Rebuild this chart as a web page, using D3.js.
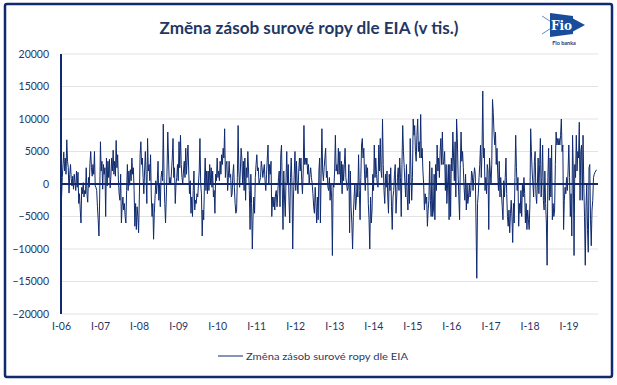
<!DOCTYPE html>
<html>
<head>
<meta charset="utf-8">
<script src="https://cdn.jsdelivr.net/npm/d3@7"></script>
<style>
    body { margin: 0; background: #fff; }
    svg { display: block; font-family: Lato, "Open Sans", sans-serif; }
</style>
</head>
<body>
<div id="chart"></div>
<script>
// weekly change of crude stocks (thousand barrels), 52 weeks per row
var w2006 = [-2100, 1000, 3000, 4900, 2000, 4000, 1500, 6800, 3500, 2500, -1400, 1500, 3000, 800, -300, 1200, -800, 1500, 200, -1000, 2000, -500, 1800, -3000, -1500, -4000, -6000, -500, -1500, 200, -2000, -1000, -1500, 2500, -1600, -2800, 1000, -500, 3200, 5000, 2500, 1200, 3000, 1500, 5000, -300, -500, -1000, -3500, -5500, -8000, -2000];
var w2007 = [6500, 2000, 3500, -800, 3000, 1500, 2500, -5000, 4000, -300, 3500, 1000, 3800, -600, 1200, 4000, 2000, 5200, 1500, 3500, 1200, 6700, 2500, 4500, 600, -1500, -2500, 1500, -6000, -3500, -2000, -4000, -3000, -5000, -6000, -1000, 3000, -1000, 2000, -200, 2200, 500, 4000, 1500, 2500, -1000, -6500, -3000, -7000, -3500, -5000, -7500];
var w2008 = [-2000, 4500, 6500, 3000, 4000, 1000, -1500, 2000, 5000, 1500, -3000, 7000, 2000, 3000, 500, 4500, -2000, -5000, -3000, -8500, -4500, -2000, 500, -1500, 500, 3500, -2500, 0, -3500, 1000, 2000, 500, 9200, 1000, -3000, -6000, -2000, 2000, 8000, 4000, 0, 1000, 0, 2000, 4000, 7000, 1000, 2500, -3000, 0, 1000, 3000];
var w2009 = [500, 6500, 2500, 7500, 3000, 1000, 0, 2000, 3500, 1000, 5500, 1500, 4000, 6000, 2000, -1500, 500, -4500, -2000, -5000, -1000, 2000, -4000, -2500, -3000, -1500, -2000, 0, 2000, 7000, 0, -1500, -8000, -4000, -5500, 0, 4000, -1000, 2000, -1500, 2000, -1000, 3000, 0, 2500, -500, 2000, -2000, -1000, -4500, 1500, 500];
var w2010 = [4000, 1000, 2000, 500, 3500, 1500, 4500, 3000, 5500, 4000, 8500, 1000, 3000, 3500, -1000, 1000, 3500, 1000, 1500, -2000, -1500, 1500, 3000, -500, -3000, -4500, -4000, 1000, 9000, 2000, -500, 2000, 5500, 4000, 0, 3500, -1000, 4000, -2500, 2500, 1000, 5000, 2000, -1000, -7000, 1500, -3000, -10000, -5000, -2000, -4500, 1000];
var w2011 = [3000, 4500, 2000, 2500, 0, 500, 1000, 3500, 2500, 1000, 2000, 3000, 500, -1000, 1500, 4000, 6000, 0, 3000, 1500, 3500, -5000, -2000, -3500, -2000, -4000, -1500, -1000, -3500, -1500, 1000, 2000, -3500, 4500, 6000, -500, -7000, 2000, -2000, -5000, 500, 5000, 0, 3000, -2500, -6000, 1000, 4000, 0, -10000, -2000, 1500];
var w2012 = [5000, -1000, 3500, 0, -1500, 2000, 4000, 2000, 4000, 500, -1500, 2000, 9000, 3000, 4000, 3000, 4000, 1500, 3000, 0, 1500, 2500, 1000, 0, -1500, -3500, -4500, -500, -3000, -6000, -2000, -5500, 2000, 4000, -6000, 2000, 8500, 2000, 500, 2500, 4000, 5500, 1000, 2000, -500, -1000, 1000, -2500, 0, -2000, -11000, 0];
var w2013 = [-500, 2000, 7500, 2000, 3000, 1500, 5500, 1500, 5000, 0, 3500, -1500, 3000, 500, 3000, 5500, 1000, 0, -1000, -500, 3000, -7500, 2000, -3500, -6000, -10000, -5000, -2000, 0, -4000, -2500, 0, -2000, 4500, -1000, -5500, 1000, 6000, 7000, 4000, 5500, 1500, -1000, 3000, 1000, 2500, -3000, -5500, -10000, -2000, -6000, -4000];
var w2014 = [1500, -1000, 6000, 1000, 4000, 1500, 0, -500, 6000, 2000, 7000, 2000, 1000, 10000, 3000, -1000, -3000, 1500, -500, 2000, -2000, -4500, 1500, -1000, 2500, -3500, -7000, -2000, -1000, 1500, 3000, -4500, -2000, 1000, 2500, -1000, 4000, 1000, -5000, 3000, 9000, 5000, 2500, 0, -2000, 3000, -2000, -4000, 1500, -3000, 7000, 2000];
var w2015 = [-2500, 1000, 10000, 7500, 9000, 5000, 3500, 7500, 10000, 5000, 6500, 4000, 10700, 4000, 5500, 2000, 0, -4000, -1500, -3000, -2000, -6500, -4000, -2500, 3500, -2500, -5000, 2500, -5000, -4000, 1500, -5500, 3000, -1000, 6000, 2000, 4000, 1000, 5000, 7000, 3000, 8000, 3000, 3500, 5000, -1000, 3000, -3000, 0, 3000, -5500, 3000];
var w2016 = [-5000, 4000, 2000, 8000, 4000, 500, 6500, -2000, 10000, 7000, 1500, -2000, -5500, 3000, 8000, 3500, 5000, 2500, -500, -2500, 1500, -4000, 0, -3000, -2000, 0, -2000, -1000, 2000, 1500, -1000, 1000, 2500, 1500, -6000, -14500, -3000, -1500, 1000, 3000, 6000, 1000, 5000, 14300, 4000, 5500, -1000, 1000, -1500, 3000, 2000, -7000];
var w2017 = [4000, 2000, 0, 3000, 13000, 11000, 8000, 6000, 8000, 3000, 5500, 1500, -1000, 3500, -2000, 1000, -1500, -3500, -5500, 500, -2000, 1000, 4000, -1500, -5000, -6500, -4000, -7500, -4500, -2500, -5000, -9000, -3000, -6000, 1000, 7500, 2500, -1000, 1000, -6500, -3000, -4500, -1000, -5000, 0, -2000, 1000, -1500, -6000, -3000, -7000, -4000];
var w2018 = [-5500, -7000, -3000, 8500, 5000, 2000, 0, -2000, 3500, 5000, -1500, -3000, 0, 4000, -1500, 3000, 7000, -2000, 1000, 6000, -2500, -4000, 2000, -3000, -6000, -12500, 1000, 5500, -2500, 4000, -2000, 6000, -5500, -3000, -5000, -4000, 3000, 8000, 6000, 7000, 6000, 7000, 6000, 7500, 10000, 5000, 6000, -7000, -2500, -500, -1500, 1000];
var w2019 = [-1000, 2000, 6000, 1000, -5000, -1500, -8000, 7500, 2000, -11000, 3000, 1000, 7500, 2000, 5000, 4000, 9500, -2500, 5000, 6000, -2500, 7500, 0, -5000, -12500, -3500, 0, -7000, -10500, 2500, 3000, -5500, -9500, -4000, -2500, 1000, 1500, 1800, 2000, 2200];

var yTicks = [-20000, -15000, -10000, -5000, 0, 5000, 10000, 15000, 20000];
var xTickYears = [2006, 2007, 2008, 2009, 2010, 2011, 2012, 2013, 2014, 2015, 2016, 2017, 2018, 2019];

var title = "Změna zásob surové ropy dle EIA (v tis.)";
var seriesName = "Změna zásob surové ropy dle EIA";

var navy = "#0f2a6e";
var textBlue = "#1f3864";

var values = [].concat(w2006, w2007, w2008, w2009, w2010, w2011, w2012, w2013, w2014, w2015, w2016, w2017, w2018, w2019);
var firstWeek = new Date(2006, 0, 6);
var data = values.map(function(v, i) {
    return { date: d3.timeDay.offset(firstWeek, 7 * i), value: v };
});

var width = 617, height = 385;
var margin = { top: 54, right: 20, bottom: 71, left: 61 };

var svg = d3.select("#chart").append("svg")
    .attr("width", width)
    .attr("height", height);

// outer frame
svg.append("rect")
    .attr("x", 5).attr("y", 4)
    .attr("width", 607).attr("height", 373)
    .attr("rx", 2)
    .attr("fill", "#fff")
    .attr("stroke", navy)
    .attr("stroke-width", 2.5);

var x = d3.scaleTime()
    .domain([new Date(2006, 0, 1), data[data.length - 1].date])
    .range([margin.left, width - margin.right - 0.5]);

var y = d3.scaleLinear()
    .domain([-20000, 20000])
    .range([height - margin.bottom, margin.top]);

var plotRight = width - margin.right + 1;

// gridlines
svg.append("g")
    .selectAll("line")
    .data(yTicks)
    .enter().append("line")
    .attr("x1", margin.left)
    .attr("x2", plotRight)
    .attr("y1", function(d) { return y(d); })
    .attr("y2", function(d) { return y(d); })
    .attr("stroke", "#e3e3e3")
    .attr("stroke-width", 1);

// y axis labels
var yAxis = svg.append("g")
    .attr("transform", "translate(" + margin.left + ",0)")
    .call(d3.axisLeft(y).tickValues(yTicks).tickSize(0).tickPadding(12).tickFormat(d3.format("d")));
yAxis.select(".domain").remove();
yAxis.selectAll("text")
    .attr("fill", textBlue)
    .style("font-size", "10.5px")
    .style("font-family", "Lato, sans-serif");

// x axis labels, sitting below the plot
var xAxis = svg.append("g")
    .attr("transform", "translate(0," + y(-20000) + ")")
    .call(d3.axisBottom(x)
        .tickValues(xTickYears.map(function(yr) { return new Date(yr, 0, 1); }))
        .tickSize(0)
        .tickPadding(9)
        .tickFormat(function(d) { return "I-" + d3.timeFormat("%y")(d); }));
xAxis.select(".domain").remove();
xAxis.selectAll("text")
    .attr("fill", textBlue)
    .style("font-size", "10.5px")
    .style("font-family", "Lato, sans-serif");

// series
var line = d3.line()
    .x(function(d) { return x(d.date); })
    .y(function(d) { return y(d.value); });

svg.append("path")
    .datum(data)
    .attr("fill", "none")
    .attr("stroke", navy)
    .attr("stroke-width", 1)
    .attr("stroke-linejoin", "round")
    .attr("d", line);

// axis lines on top
svg.append("line")
    .attr("x1", margin.left).attr("x2", plotRight)
    .attr("y1", y(0)).attr("y2", y(0))
    .attr("stroke", navy)
    .attr("stroke-width", 2);

svg.append("line")
    .attr("x1", margin.left).attr("x2", margin.left)
    .attr("y1", y(20000)).attr("y2", y(-20000))
    .attr("stroke", navy)
    .attr("stroke-width", 2);

// title
svg.append("text")
    .attr("x", 309)
    .attr("y", 34)
    .attr("text-anchor", "middle")
    .attr("fill", textBlue)
    .attr("textLength", 299)
    .attr("lengthAdjust", "spacingAndGlyphs")
    .style("font-size", "17px")
    .style("font-weight", "bold")
    .text(title);

// legend
var legend = svg.append("g").attr("transform", "translate(218,356)");
legend.append("line")
    .attr("x1", 0).attr("x2", 25)
    .attr("stroke", navy)
    .attr("stroke-width", 1);
legend.append("text")
    .attr("x", 28)
    .attr("y", 3.5)
    .attr("fill", "#2b3a63")
    .attr("textLength", 162)
    .attr("lengthAdjust", "spacingAndGlyphs")
    .style("font-size", "10px")
    .text(seriesName);

// Fio banka logo
var logo = svg.append("g");
logo.append("polyline")
    .attr("points", "542,16 556,25 542,34")
    .attr("fill", "none")
    .attr("stroke", "#3b6cb5")
    .attr("stroke-width", 0.8);
logo.append("polygon")
    .attr("points", "572,18 585,25 572,32")
    .attr("fill", "#1a4c9c");
logo.append("polygon")
    .attr("points", "550,13 573,16 573,34 550,37")
    .attr("fill", "#1a4c9c");
logo.append("text")
    .attr("x", 561.5).attr("y", 30)
    .attr("text-anchor", "middle")
    .attr("fill", "#fff")
    .style("font-family", "'DejaVu Serif', serif")
    .style("font-weight", "bold")
    .style("font-size", "12px")
    .text("Fio");
logo.append("text")
    .attr("x", 564).attr("y", 45)
    .attr("text-anchor", "middle")
    .attr("fill", "#1a3a7a")
    .style("font-size", "5.5px")
    .style("font-weight", "bold")
    .text("Fio banka");
</script>
</body>
</html>
